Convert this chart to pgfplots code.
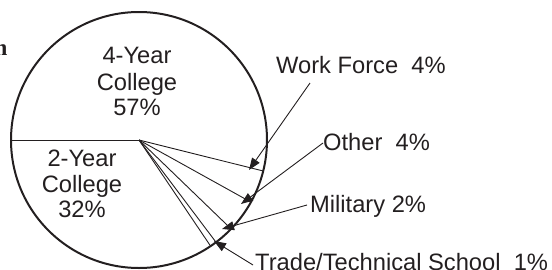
\documentclass[border=0pt]{standalone}
\usepackage{pgfplots}
\pgfplotsset{compat=1.18}
\usepackage{fontspec}
\setmainfont{Liberation Sans}
\newfontfamily\serifb{Liberation Serif}
\usetikzlibrary{arrows.meta}
\definecolor{ink}{HTML}{231F20}
\tikzset{lbl/.style={font=\fontsize{23.7}{28}\selectfont, text=ink, inner sep=0pt}}
\begin{document}
\begin{tikzpicture}
\begin{axis}[width=552pt,height=269pt,scale only axis,hide axis,
  xmin=0,xmax=552,ymin=0,ymax=269,clip=true]
% pie outline
\draw[ink,line width=2pt] (axis cs:139,129) circle[radius=128pt];
% slice boundaries (centre 139,129; rim points at measured angles 180,-14,-29,-44,-53,-56 deg)
\addplot[ink,line width=0.9pt,mark=none] coordinates {(11,129) (139,129)};
\addplot[ink,line width=0.9pt,mark=none] coordinates {(139,129) (263.2,98.0)};
\addplot[ink,line width=0.9pt,mark=none] coordinates {(139,129) (250.9,66.9)};
\addplot[ink,line width=0.9pt,mark=none] coordinates {(139,129) (231.1,40.1)};
\addplot[ink,line width=0.9pt,mark=none] coordinates {(139,129) (216.0,26.8)};
\addplot[ink,line width=0.9pt,mark=none] coordinates {(139,129) (210.6,22.9)};
% pointer arrows
\addplot[ink,line width=0.9pt,mark=none,-{Triangle[length=12pt,width=9pt]}] coordinates {(310,186) (249,99)};
\addplot[ink,line width=0.9pt,mark=none,-{Triangle[length=12pt,width=9pt]}] coordinates {(323,126) (241,65)};
\addplot[ink,line width=0.9pt,mark=none,-{Triangle[length=12pt,width=9pt]}] coordinates {(307,64) (222,40)};
\addplot[ink,line width=0.9pt,mark=none,-{Triangle[length=12pt,width=9pt]}] coordinates {(253,4) (214,28)};
% inside labels
\node[lbl,anchor=base] at (axis cs:137,206) {4-Year};
\node[lbl,anchor=base] at (axis cs:137,179) {College};
\node[lbl,anchor=base] at (axis cs:137,154) {57\%};
\node[lbl,anchor=base] at (axis cs:82,103) {2-Year};
\node[lbl,anchor=base] at (axis cs:82,77) {College};
\node[lbl,anchor=base] at (axis cs:82,52) {32\%};
% outside labels
\node[lbl,anchor=base west] at (axis cs:276,196) {Work Force\ \ 4\%};
\node[lbl,anchor=base west] at (axis cs:323,119) {Other\ \ 4\%};
\node[lbl,anchor=base west] at (axis cs:310,57) {Military 2\%};
\node[lbl,anchor=base west] at (axis cs:255,-1) {Trade/Technical School\ \ 1\%};
% cropped title fragment
\node[inner sep=0pt,anchor=base east,text=ink,font=\serifb\bfseries\fontsize{23}{28}\selectfont] at (axis cs:7.5,214) {n};
\end{axis}
\pgfresetboundingbox
\useasboundingbox (0,0) rectangle (552pt,269pt);
\end{tikzpicture}
\end{document}
